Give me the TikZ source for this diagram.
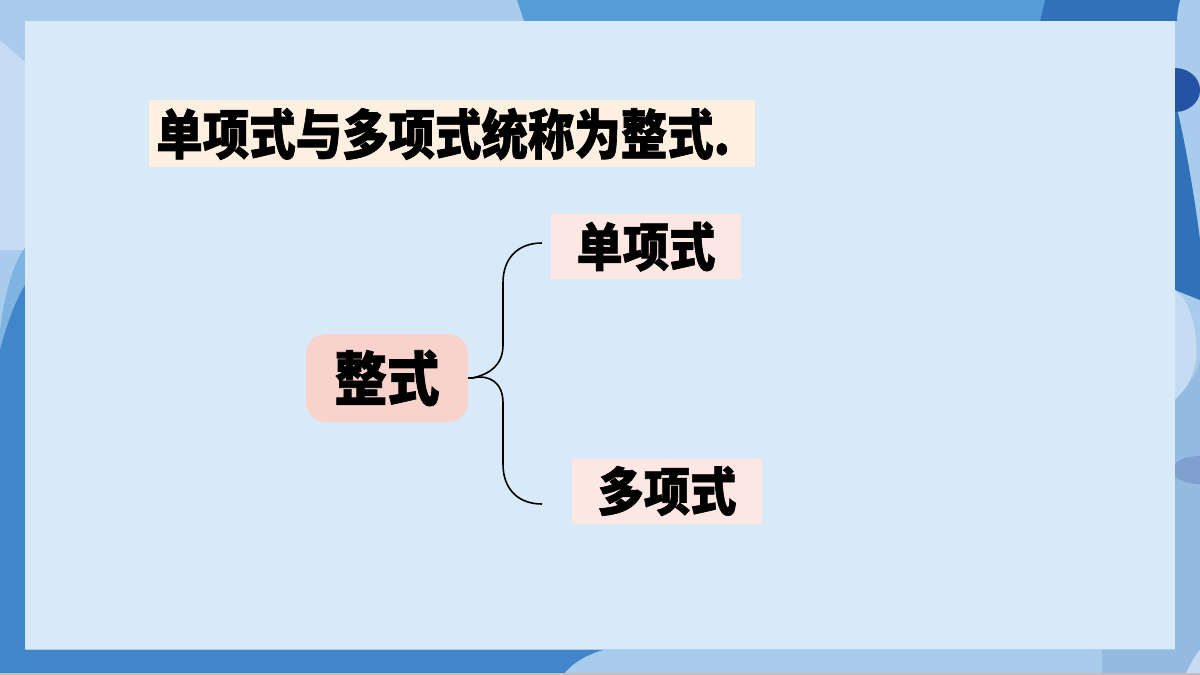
\documentclass[tikz,border=0pt]{standalone}
\usepackage{fontspec}
\newfontfamily\cjkA{Noto Sans CJK SC}[FakeStretch=0.86, BoldFeatures={FakeStretch=0.86, FakeBold=1.2}]
\newfontfamily\cjkB{Noto Sans CJK SC}[FakeStretch=0.89, BoldFeatures={FakeStretch=0.89, FakeBold=1.2}]
\definecolor{inner}{HTML}{D8E9F8}
\definecolor{outerL}{HTML}{A9CBEC}
\definecolor{outerXL}{HTML}{C5DCF2}
\definecolor{outerM}{HTML}{7FB3E2}
\definecolor{outerD}{HTML}{4086C8}
\definecolor{topM}{HTML}{559DD7}
\definecolor{topD}{HTML}{2F72B9}
\definecolor{blobD}{HTML}{2453A6}
\definecolor{rightM}{HTML}{94BAE2}
\definecolor{blobG}{HTML}{7F9FCF}
\definecolor{titlebg}{HTML}{FDF0E0}
\definecolor{mainbg}{HTML}{F9D3CB}
\definecolor{subbg}{HTML}{FDE7E3}
\tikzset{
  titlebox/.style={fill=titlebg, anchor=north west, minimum width=303pt, minimum height=33.5pt,
    text width=296pt, align=left, inner xsep=3.5pt, inner ysep=0pt, font=\cjkA\bfseries\fontsize{27}{30}\selectfont},
  mainbox/.style={fill=mainbg, rounded corners=10pt, minimum width=81pt, minimum height=44pt,
    inner sep=0pt, font=\cjkB\bfseries\fontsize{29.5}{32}\selectfont},
  subbox/.style={fill=subbg, minimum width=95pt, minimum height=32.5pt,
    inner sep=0pt, font=\cjkB\bfseries\fontsize{26}{28}\selectfont},
  brace/.style={draw=black, line width=0.8pt}
}
\begin{document}
\begin{tikzpicture}[x=0.5pt,y=-0.5pt]
\useasboundingbox (0,0) rectangle (1200,675);
% outer background
\fill[outerL] (0,0) rectangle (1200,675);
\fill[outerXL] (0,40) -- (25,62) -- (25,250) -- (0,250) -- cycle;
\fill[outerM] (0,330) .. controls (5,290) and (15,260) .. (25,248) -- (25,300) -- (0,350) -- cycle;
\fill[outerD] (0,350) .. controls (8,320) and (16,300) .. (25,285) -- (25,650) -- (603,650)
  .. controls (585,655) and (570,665) .. (563,675) -- (0,675) -- cycle;
\fill[topM] (517,0) -- (1045,0) -- (1040,21) -- (524,21) -- cycle;
\fill[topD] (1045,0) -- (1180,0) .. controls (1178,8) and (1177,15) .. (1177,21) -- (1040,21) -- cycle;
\fill[topD] (1175,100) .. controls (1185,140) and (1195,200) .. (1200,240) -- (1200,300) -- (1175,290) -- cycle;
\fill[blobD] (1175,90) ellipse (25 and 22);
\fill[outerXL] (1175,290) .. controls (1190,300) and (1198,330) .. (1196,360) .. controls (1192,380) and (1185,390) .. (1175,400) -- cycle;
\fill[rightM] (1175,400) .. controls (1190,385) and (1198,370) .. (1200,360) -- (1200,675) -- (1102,675) -- (1102,650) -- (1175,650) -- cycle;
\fill[blobG] (1200,470) ellipse (28 and 14);
\fill[outerXL] (1200,650) -- (1200,675) -- (1185,675) .. controls (1190,665) and (1195,655) .. (1200,650) -- cycle;
\fill[black!25] (0,673) rectangle (1200,675);
% inner panel
\fill[inner] (25,21) rectangle (1175,649);
% nodes
\node[titlebox] (title) at (149,100) {单项式与多项式统称为整式.};
\node[mainbox] (zs) at (387,378) {整式};
\node[subbox] (dan) at (646,246.5) {单项式};
\node[subbox] (duo) at (667,491) {多项式};
\coordinate (bt) at (542,243);
\coordinate (bb) at (542,504);
% brace
\draw[brace] (zs.east) -- ++(4,0) .. controls (490,374) and (503,365) .. (503,345)
  -- (503,283) .. controls (503,258) and (518,243) .. (bt);
\draw[brace] (zs.east) -- ++(4,0) .. controls (490,374) and (503,383) .. (503,403)
  -- (503,464) .. controls (503,489) and (518,504) .. (bb);
\end{tikzpicture}
\end{document}
